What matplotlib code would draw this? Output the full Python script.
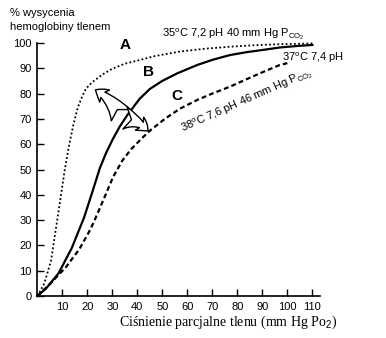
import matplotlib.pyplot as plt
from matplotlib.patches import FancyArrowPatch

plt.rcParams['font.family'] = ['Liberation Sans', 'DejaVu Sans']
plt.rcParams['mathtext.fontset'] = 'custom'
plt.rcParams['mathtext.rm'] = 'Liberation Sans'
plt.rcParams['mathtext.it'] = 'Liberation Sans:italic'

# curve A (dotted): 35 C, pH 7.2, 40 mm Hg PCO2
po2_a = [0, 1.5, 2.8, 4, 5.5, 7.5, 9.5, 11, 12.8, 14.5, 16.2, 18, 19.5, 22, 26, 30, 35,
         40, 47, 57, 67, 77, 87, 97, 110]
sat_a = [0, 2.5, 5, 9, 14, 27, 40, 50, 60, 68, 74.5, 79, 82, 84.5, 87.5, 89.8, 91.8,
         93, 94.8, 96.6, 97.7, 98.5, 99.1, 99.5, 99.8]

# curve B (solid): 37 C, pH 7.4
po2_b = [0, 3.5, 8.5, 13.8, 18.7, 22.3, 25, 27.5, 30.2, 33, 36, 41, 45, 50, 56, 64,
         70, 77, 84, 90, 97, 104, 110]
sat_b = [0, 3, 9, 19, 31, 42, 50.5, 56.5, 62, 67, 71.5, 78, 81.8, 85, 88, 91.3,
         93.3, 95.2, 96.4, 97.2, 98.2, 98.8, 99.2]

# curve C (dashed): 38 C, pH 7.6, 46 mm Hg PCO2
po2_c = [0, 5.3, 11.5, 16.8, 20.5, 22.5, 26, 30.3, 34, 37.5, 42, 45, 51, 57, 64, 70,
         77, 84, 90, 97, 100]
sat_c = [0, 5, 11.5, 18.5, 25, 29, 37, 47, 53.5, 58, 62.5, 65.3, 70, 74, 77.5, 80,
         82.7, 85.8, 88.4, 91.3, 92]

x_ticks = [10, 20, 30, 40, 50, 60, 70, 80, 90, 100, 110]
y_ticks = [0, 10, 20, 30, 40, 50, 60, 70, 80, 90, 100]

fig = plt.figure(figsize=(3.86, 3.38), dpi=100)
ax = fig.add_axes([0.0966, 0.124, 0.732, 0.749])

ax.plot(po2_a, sat_a, color='black', lw=1.3, ls=(0, (1, 1.3)), clip_on=False)
ax.plot(po2_b, sat_b, color='black', lw=1.6, clip_on=False)
ax.plot(po2_c, sat_c, color='black', lw=1.6, ls=(0, (2.2, 1.4)), clip_on=False)

# outline arrows leaving curve B
base = (34, 70.5)
for head, rad in [((22.3, 82), 0.15), ((45, 64.4), -0.2)]:
    arr = FancyArrowPatch(base, head, connectionstyle='arc3,rad=%s' % rad,
                          arrowstyle='fancy,head_width=11,head_length=8,tail_width=16',
                          facecolor='white', edgecolor='black', lw=1.0,
                          mutation_scale=1, zorder=5)
    ax.add_patch(arr)

ax.text(35, 99, 'A', fontsize=11, fontweight='bold', ha='center', va='center')
ax.text(44.5, 88.5, 'B', fontsize=11, fontweight='bold', ha='center', va='center')
ax.text(56, 79, 'C', fontsize=11, fontweight='bold', ha='center', va='center')

ax.text(50, 100.5, r'35$^{\rm o}$C 7,2 pH 40 mm Hg P$_{\rm CO_2}$', fontsize=8,
        ha='left', va='bottom')
ax.text(98, 94, r'37$^{\rm o}$C 7,4 pH', fontsize=8, ha='left', va='center')
ax.text(59, 63, r'38$^{\rm o}$C 7,6 pH 46 mm Hg P$_{\rm CO_2}$', fontsize=8,
        ha='left', va='bottom', rotation=24, rotation_mode='anchor')

ax.set_xlim(0, 113)
ax.set_ylim(0, 100)
ax.set_xticks(x_ticks)
ax.set_yticks(y_ticks)
ax.tick_params(direction='in', length=5, width=1, labelsize=8, pad=4)
for s in ['top', 'right']:
    ax.spines[s].set_visible(False)
for s in ['left', 'bottom']:
    ax.spines[s].set_linewidth(1.2)

fig.text(0.026, 0.975, '% wysycenia\nhemoglobiny tlenem', fontsize=8,
         ha='left', va='top', linespacing=1.5)
fig.text(0.59, 0.045, 'Ciśnienie parcjalne tlenu (mm Hg Po$_2$)', fontsize=10,
         ha='center', va='center', family='Liberation Serif')

fig.savefig('out.png', dpi=100)
